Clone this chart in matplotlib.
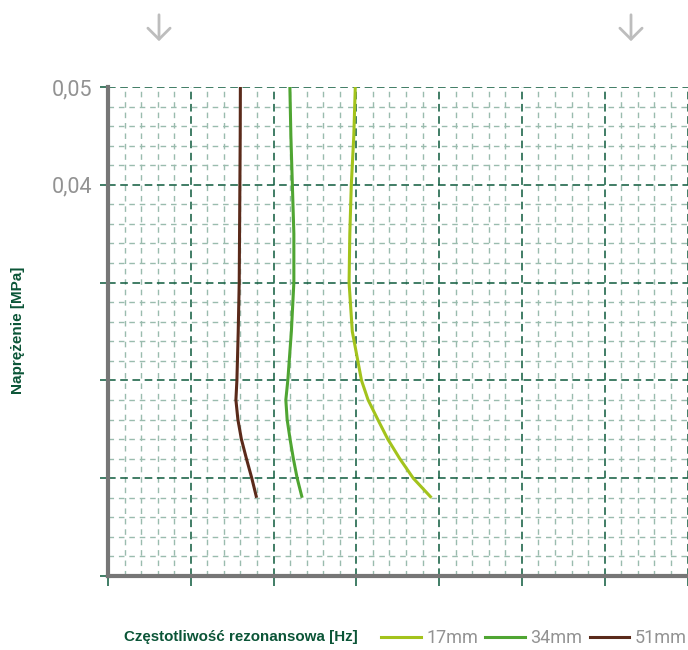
import matplotlib
matplotlib.use("Agg")
import matplotlib.pyplot as plt
from matplotlib.ticker import MultipleLocator, FixedLocator, FixedFormatter
from matplotlib.lines import Line2D

# ---- data ----
stress = [0.050, 0.045, 0.040, 0.035, 0.030, 0.025, 0.020, 0.018, 0.016, 0.014, 0.012, 0.010, 0.008]
freq_17mm = [298.7, 296.9, 293.9, 292.1, 291.2, 295.1, 306.2, 314.2, 325.9, 337.9, 352.4, 368.7, 390.7]
freq_34mm = [219.7, 220.9, 222.7, 224.5, 224.5, 221.5, 217.2, 214.8, 216.4, 219.9, 223.9, 228.5, 234.5]
freq_51mm = [159.9, 159.7, 159.3, 158.9, 158.5, 157.3, 155.7, 154.5, 156.9, 161.1, 167.2, 173.7, 179.5]
series_labels = ["17mm", "34mm", "51mm"]
series_colors = ["#a3c31c", "#4fa532", "#5a2a1a"]
ytick_values = [0.0, 0.01, 0.02, 0.03, 0.04, 0.05]
ytick_labels = ["", "", "", "", "0,04", "0,05"]
xlabel = "Częstotliwość rezonansowa [Hz]"
ylabel = "Naprężenie [MPa]"

W, H = 688, 650
fig = plt.figure(figsize=(W / 100, H / 100), dpi=100)
ax = fig.add_axes([108 / W, 74 / H, 579.5 / W, 489 / H])

for f, lab, col in zip([freq_17mm, freq_34mm, freq_51mm], series_labels, series_colors):
    ax.plot(f, stress, color=col, lw=2.2, label=lab, solid_capstyle="butt", zorder=5)

ax.set_xlim(0, 700)
ax.set_ylim(0, 0.05)
ax.xaxis.set_major_locator(MultipleLocator(100))
ax.xaxis.set_minor_locator(MultipleLocator(20))
ax.yaxis.set_major_locator(FixedLocator(ytick_values))
ax.yaxis.set_major_formatter(FixedFormatter(ytick_labels))
ax.yaxis.set_minor_locator(MultipleLocator(0.002))
ax.set_xticklabels([])

dark = "#0d5a3c"
light = "#9abcae"
ax.grid(which="major", color=dark, linestyle=(0, (5, 3)), lw=1.1, zorder=1)
ax.grid(which="minor", color=light, linestyle=(0, (4, 3.5)), lw=1.0, zorder=1)
ax.set_axisbelow(True)

ax.tick_params(which="minor", length=0)
ax.tick_params(axis="y", which="major", length=6, width=1.1, color=dark,
               labelsize=15.5, labelcolor="#929292", pad=5)
ax.tick_params(axis="x", which="major", length=7, width=1.1, color=dark)
for lab in ax.get_yticklabels():
    lab.set_fontfamily(["Roboto", "DejaVu Sans"])
    lab.set_fontweight("normal")
ax.xaxis.get_major_ticks()[0].tick1line.set_color("#767676")
ax.yaxis.get_major_ticks()[0].tick1line.set_color("#767676")

for s in ["top", "right"]:
    ax.spines[s].set_visible(False)
for s in ["left", "bottom"]:
    ax.spines[s].set_color("#767676")
    ax.spines[s].set_linewidth(3)
    ax.spines[s].set_zorder(6)

fig.text(18 / W, 1 - 330 / H, ylabel, rotation=90, ha="center", va="center",
         color="#0b5537", fontsize=11, fontweight="bold", family=["Liberation Sans", "DejaVu Sans"])
fig.text(124 / W, 1 - 637 / H, xlabel, ha="left", va="center",
         color="#0b5537", fontsize=10.9, fontweight="bold", family=["Liberation Sans", "DejaVu Sans"])

handles = [Line2D([], [], color=c, lw=2.2) for c in series_colors]
leg = fig.legend(handles, series_labels, loc="center left", bbox_to_anchor=(381 / W, 1 - 638 / H),
                 ncol=3, frameon=False, handlelength=2.2, handletextpad=0.3, columnspacing=0.4,
                 borderaxespad=0, borderpad=0,
                 prop={"family": ["Roboto", "DejaVu Sans"], "weight": "normal", "size": 13})
for t in leg.get_texts():
    t.set_color("#929292")

for xp in [159, 631]:
    fig.add_artist(matplotlib.patches.FancyArrowPatch(
        (xp, H - 12), (xp, H - 44), transform=None,
        arrowstyle="->,head_length=8,head_width=8", color="#bdbdbd", lw=2,
        mutation_scale=1))

fig.savefig("out.png", dpi=100)
